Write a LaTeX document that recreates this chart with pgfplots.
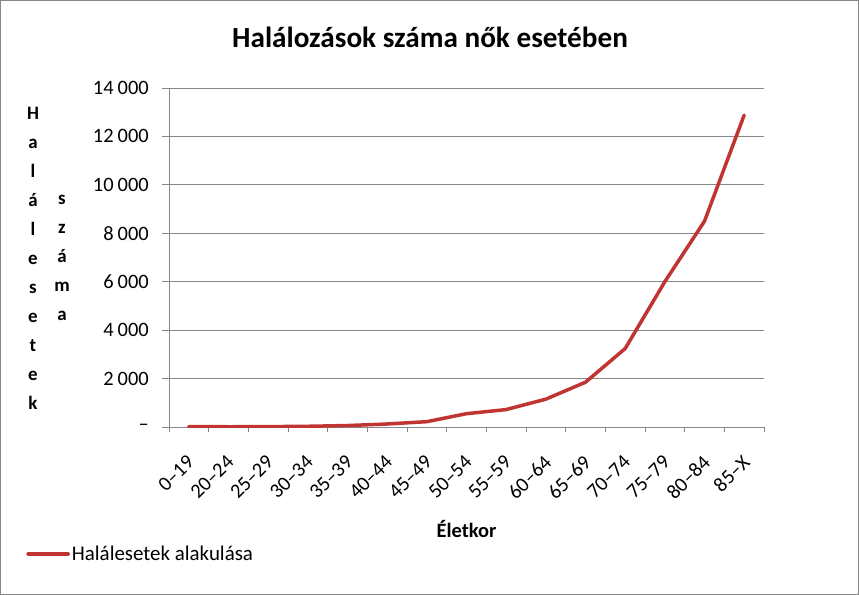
\documentclass[border=0pt]{standalone}
\usepackage{fontspec}
\setmainfont{Carlito}
\usepackage{pgfplots}
\pgfplotsset{compat=1.18}
\definecolor{seriesred}{RGB}{192,52,50}
\definecolor{gridgray}{RGB}{134,134,134}

\begin{document}
\begin{tikzpicture}
  \path[use as bounding box] (0,0) rectangle (859bp,-595bp);
  \draw[gridgray, line width=1bp] (0.5bp,-0.5bp) rectangle (858.5bp,-594.5bp);

  % title and the stacked y label
  \node[font={\fontsize{29.3}{33}\selectfont\bfseries}] at (430bp,-37bp) {Halálozások száma nők esetében};
  \node[font={\fontsize{19}{29.1}\selectfont\bfseries}, align=center] at (33bp,-258bp)
    {H\\a\\l\\á\\l\\e\\s\\e\\t\\e\\k};
  \node[font={\fontsize{19}{29.1}\selectfont\bfseries}, align=center] at (62bp,-258bp)
    {s\\z\\á\\m\\a};

  \begin{axis}[
    at={(169bp,-427bp)}, anchor=south west,
    scale only axis, width=595bp, height=339bp,
    xmin=-0.5, xmax=14.5,
    ymin=0, ymax=14000,
    scaled y ticks=false,
    axis lines*=left,
    axis line style={gridgray, line width=1bp},
    tick align=outside,
    xtick={0,...,14},
    minor xtick={-0.5,0.5,...,14.5},
    major x tick style={draw=none},
    minor x tick style={gridgray, line width=1bp},
    minor tick length=5bp,
    ytick={0,2000,...,14000},
    major tick length=7bp,
    ytick style={gridgray, line width=1bp},
    xticklabels={0–19,20–24,25–29,30–34,35–39,40–44,45–49,50–54,55–59,60–64,65–69,70–74,75–79,80–84,85–X},
    yticklabels={–,2\kern0.2em000,4\kern0.2em000,6\kern0.2em000,8\kern0.2em000,10\kern0.2em000,12\kern0.2em000,14\kern0.2em000},
    ticklabel style={font={\fontsize{20.5}{24}\selectfont}},
    xticklabel style={xshift=-3bp, yshift=-17bp, rotate=45, anchor=north east, inner sep=2bp},
    yticklabel style={anchor=east, inner sep=0pt, xshift=-13bp},
    ymajorgrids,
    grid style={gridgray, line width=1bp},
    xlabel={Életkor},
    xlabel style={font={\fontsize{20.5}{24}\selectfont\bfseries}, at={(axis description cs:0.50,-0.30)}, anchor=center},
    legend style={draw=none, fill=none, at={(axis description cs:-0.24,-0.374)}, anchor=west,
      inner sep=0pt, font={\fontsize{21}{24}\selectfont}, legend cell align=left},
    legend image code/.code={\draw[#1] (0bp,0bp) -- (40bp,0bp);},
  ]
    \addplot[seriesred, line width=3.5bp, line cap=round, line join=round] coordinates {
      (0,20) (1,10) (2,15) (3,30) (4,60) (5,125) (6,220) (7,550)
      (8,720) (9,1150) (10,1850) (11,3240) (12,6000) (13,8500) (14,12880)
    };
    \addlegendentry{Halálesetek alakulása}
  \end{axis}
\end{tikzpicture}
\end{document}
